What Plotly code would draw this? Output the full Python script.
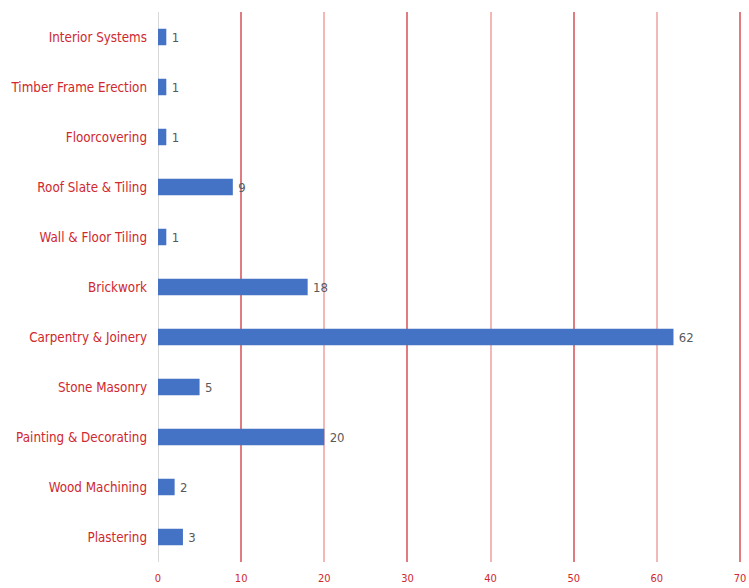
import plotly.graph_objects as go

categories = ["Plastering", "Wood Machining", "Painting & Decorating", "Stone Masonry",
              "Carpentry & Joinery", "Brickwork", "Wall & Floor Tiling", "Roof Slate & Tiling",
              "Floorcovering", "Timber Frame Erection", "Interior Systems"]
values = [3, 2, 20, 5, 62, 18, 1, 9, 1, 1, 1]

FONT = "Liberation Sans Narrow, Arial Narrow, DejaVu Sans Condensed, sans-serif"
RED = "#d0282e"
XR = [0, 70.36]

fig = go.Figure()
fig.add_trace(go.Bar(
    y=categories, x=values, orientation="h", width=0.33,
    marker=dict(color="#4472c4", line=dict(width=0)),
    text=["\u2009" + str(v) for v in values], textposition="outside",
    textfont=dict(family=FONT, size=13, color="#595959"),
    cliponaxis=False, showlegend=False,
))
# invisible trace on overlay axis for alternate grid colour
fig.add_trace(go.Scatter(x=[0, 70], y=[categories[0], categories[0]], xaxis="x2",
                         mode="markers", marker=dict(opacity=0), showlegend=False,
                         hoverinfo="skip"))

fig.update_layout(
    width=749, height=588,
    margin=dict(l=158, r=6, t=12, b=26),
    plot_bgcolor="white", paper_bgcolor="white",
    xaxis=dict(range=XR, dtick=10, tick0=0, showgrid=True, gridcolor="#f2b8b8",
               gridwidth=2, zeroline=True, zerolinecolor="#d9d9d9", zerolinewidth=1,
               tickfont=dict(family=FONT, size=11, color=RED), showline=False,
               ticks="", ticklabelstandoff=8, automargin=False),
    xaxis2=dict(range=XR, overlaying="x", tick0=10, dtick=20, showgrid=True,
                gridcolor="#e07c80", gridwidth=2, zeroline=False, showticklabels=False,
                ticks="", showline=False, automargin=False),
    yaxis=dict(categoryorder="array", categoryarray=categories, showgrid=False,
               range=[-0.5, len(categories) - 0.5],
               tickfont=dict(family=FONT, size=13.3, color=RED), ticks="",
               ticklabelstandoff=10, showline=False, automargin=False),
    font=dict(family=FONT),
)

fig.write_html("out.html")
